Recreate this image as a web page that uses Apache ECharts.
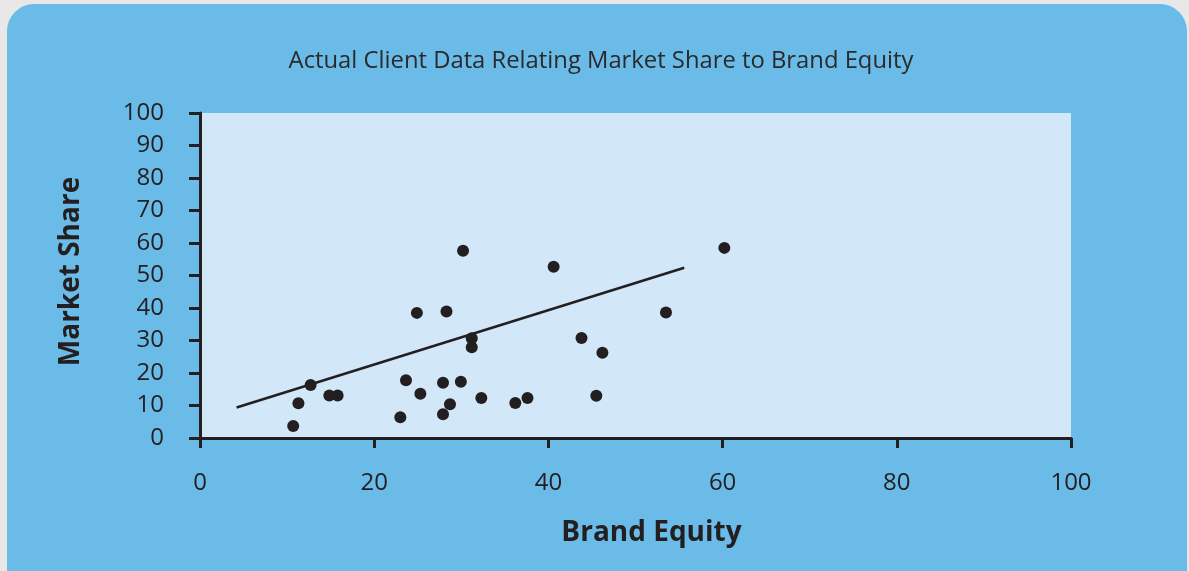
<!DOCTYPE html>
<html>
<head>
<meta charset="utf-8">
<script src="https://cdn.jsdelivr.net/npm/echarts@6/dist/echarts.min.js"></script>
<style>
html,body{margin:0;padding:0;width:1189px;height:571px;overflow:hidden;background:#e8e8e8;}
#panel{position:absolute;left:7px;top:4px;width:1180px;height:620px;background:#6bbbe8;border-radius:27px;}
#chart{position:absolute;left:0;top:0;width:1189px;height:571px;}
</style>
</head>
<body>
<div id="panel"></div>
<div id="chart"></div>
<script>
const titleText = 'Actual Client Data Relating Market Share to Brand Equity';
const xAxisName = 'Brand Equity';
const yAxisName = 'Market Share';
const brandEquity = [10.7, 11.3, 12.7, 14.85, 15.8, 23.0, 23.65, 24.9, 25.3, 27.9, 27.9, 28.3, 28.7, 29.95, 30.2, 31.2, 31.2, 32.3, 36.2, 37.6, 40.6, 43.8, 45.5, 46.2, 53.5, 60.2];
const marketShare = [3.7, 10.7, 16.3, 13.1, 13.1, 6.4, 17.8, 38.5, 13.6, 17.0, 7.3, 38.9, 10.4, 17.3, 57.6, 30.7, 27.9, 12.3, 10.8, 12.3, 52.7, 30.8, 13.0, 26.2, 38.6, 58.5];
const trendX = [4.2, 55.6];
const trendY = [9.4, 52.4];

const points = brandEquity.map((x, i) => [x, marketShare[i]]);
const trend = trendX.map((x, i) => [x, trendY[i]]);
const ink = '#231f20';
const font = '"Open Sans", "Noto Sans", sans-serif';

const chart = echarts.init(document.getElementById('chart'), null, {renderer: 'canvas'});
chart.setOption({
  backgroundColor: 'transparent',
  animation: false,
  graphic: [{
    type: 'text',
    style: {
      x: 601, y: 61, text: titleText,
      textAlign: 'center', textVerticalAlign: 'middle',
      fontFamily: font, fontSize: 23.8, fontWeight: 'normal', fill: '#2a2a2a'
    }
  }],
  grid: {
    left: 200, top: 113, width: 871, height: 325,
    show: true, backgroundColor: '#d2e7f7', borderWidth: 0
  },
  xAxis: {
    type: 'value', min: 0, max: 100, interval: 20,
    name: xAxisName, nameLocation: 'middle', nameGap: 81,
    nameTextStyle: {fontFamily: font, fontSize: 28, fontWeight: 'bold', color: ink, padding: [0, 0, 0, 32]},
    axisLine: {show: true, lineStyle: {color: ink, width: 3}},
    axisTick: {show: true, length: 10, lineStyle: {color: ink, width: 3}},
    axisLabel: {fontFamily: font, fontSize: 24, color: ink, margin: 33},
    splitLine: {show: false}
  },
  yAxis: {
    type: 'value', min: 0, max: 100, interval: 10,
    name: yAxisName, nameLocation: 'middle', nameGap: 115,
    nameTextStyle: {fontFamily: font, fontSize: 28, fontWeight: 'bold', color: ink, padding: [0, 0, 0, 8]},
    axisLine: {show: true, lineStyle: {color: ink, width: 3}},
    axisTick: {show: true, length: 11, lineStyle: {color: ink, width: 3}},
    axisLabel: {fontFamily: font, fontSize: 24, color: ink, margin: 36},
    splitLine: {show: false}
  },
  series: [
    {
      type: 'line', data: trend, showSymbol: false, symbol: 'none',
      lineStyle: {color: ink, width: 2.5}, z: 2
    },
    {
      type: 'scatter', data: points, symbolSize: 12,
      itemStyle: {color: ink, opacity: 1}, z: 3
    }
  ]
});
</script>
</body>
</html>
